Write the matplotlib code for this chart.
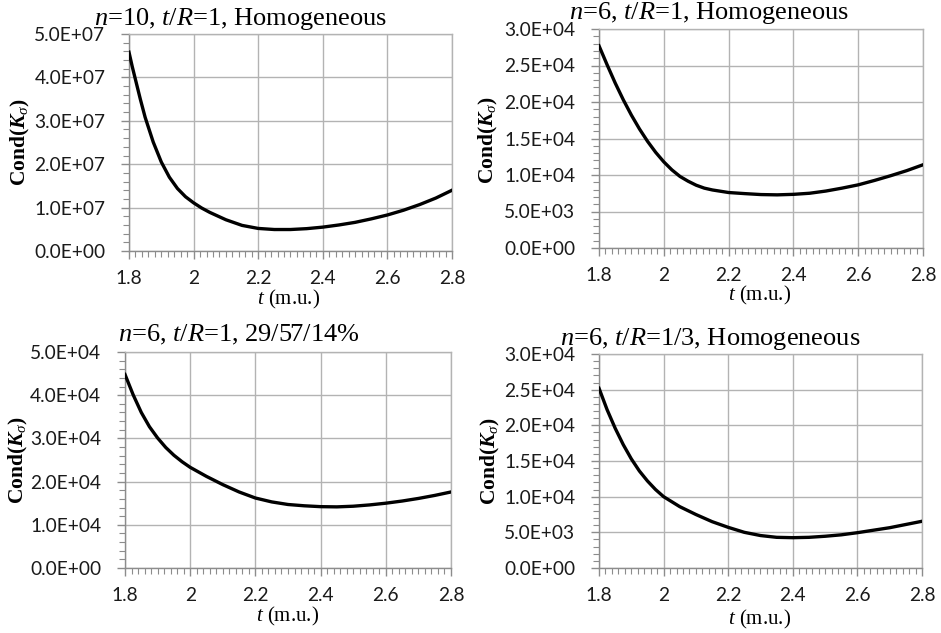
import matplotlib
matplotlib.use("Agg")
import matplotlib.pyplot as plt
from matplotlib.ticker import MultipleLocator, FuncFormatter

# thickness t (m.u.) and Cond(K_sigma)
t1 = [1.80, 1.81, 1.82, 1.835, 1.85, 1.875, 1.90, 1.925, 1.95, 1.975, 2.00, 2.025, 2.05,
      2.10, 2.15, 2.20, 2.25, 2.30, 2.35, 2.40, 2.45, 2.50, 2.55, 2.60, 2.65, 2.70, 2.75, 2.80]
cond1 = [4.58e7, 4.25e7, 3.95e7, 3.50e7, 3.08e7, 2.51e7, 2.05e7, 1.70e7, 1.44e7, 1.25e7,
         1.11e7, 0.99e7, 0.89e7, 0.72e7, 0.59e7, 0.52e7, 0.495e7, 0.495e7, 0.515e7, 0.55e7,
         0.60e7, 0.66e7, 0.74e7, 0.83e7, 0.94e7, 1.07e7, 1.22e7, 1.40e7]

t2 = [1.80, 1.825, 1.85, 1.875, 1.90, 1.925, 1.95, 1.975, 2.00, 2.025, 2.05, 2.075, 2.10,
      2.125, 2.15, 2.20, 2.25, 2.30, 2.35, 2.40, 2.45, 2.50, 2.55, 2.60, 2.65, 2.70, 2.75, 2.80]
cond2 = [2.77e4, 2.51e4, 2.26e4, 2.03e4, 1.82e4, 1.63e4, 1.46e4, 1.31e4, 1.18e4, 1.07e4,
         0.98e4, 0.915e4, 0.86e4, 0.82e4, 0.795e4, 0.76e4, 0.745e4, 0.732e4, 0.728e4, 0.735e4,
         0.75e4, 0.78e4, 0.82e4, 0.865e4, 0.925e4, 0.99e4, 1.06e4, 1.14e4]

t3 = [1.80, 1.825, 1.85, 1.875, 1.90, 1.925, 1.95, 1.975, 2.00, 2.05, 2.10, 2.15, 2.20,
      2.25, 2.30, 2.35, 2.40, 2.45, 2.50, 2.55, 2.60, 2.65, 2.70, 2.75, 2.80]
cond3 = [4.48e4, 4.01e4, 3.60e4, 3.27e4, 3.01e4, 2.79e4, 2.61e4, 2.46e4, 2.33e4, 2.12e4,
         1.93e4, 1.76e4, 1.62e4, 1.53e4, 1.47e4, 1.44e4, 1.42e4, 1.415e4, 1.43e4, 1.46e4,
         1.50e4, 1.55e4, 1.61e4, 1.68e4, 1.76e4]

t4 = [1.80, 1.825, 1.85, 1.875, 1.90, 1.925, 1.95, 1.975, 2.00, 2.05, 2.10, 2.15, 2.20,
      2.25, 2.30, 2.35, 2.40, 2.45, 2.50, 2.55, 2.60, 2.65, 2.70, 2.75, 2.80]
cond4 = [2.52e4, 2.22e4, 1.96e4, 1.73e4, 1.53e4, 1.36e4, 1.22e4, 1.10e4, 1.00e4, 0.86e4,
         0.75e4, 0.65e4, 0.57e4, 0.50e4, 0.455e4, 0.43e4, 0.425e4, 0.43e4, 0.445e4, 0.465e4,
         0.495e4, 0.53e4, 0.565e4, 0.61e4, 0.655e4]

titles = [r"$n$=10, $t$/$R$=1, Homogeneous",
          r"$n$=6, $t$/$R$=1, Homogeneous",
          r"$n$=6, $t$/$R$=1, 29/57/14%",
          r"$n$=6, $t$/$R$=1/3, Homogeneous"]
ymax = [5e7, 3e4, 5e4, 3e4]
ystep = [1e7, 5e3, 1e4, 5e3]

plt.rcParams["font.family"] = "Lato"
plt.rcParams["mathtext.fontset"] = "custom"
plt.rcParams["mathtext.rm"] = "Liberation Serif"
plt.rcParams["mathtext.it"] = "Liberation Serif:italic"
plt.rcParams["mathtext.bf"] = "Liberation Serif:bold"
plt.rcParams["mathtext.bfit"] = "Liberation Serif:bold:italic"

W, H = 941, 633
fig = plt.figure(figsize=(W / 100, H / 100), dpi=100)

# axes boxes in pixels: left, top, right, bottom
boxes = [(129, 34, 452, 251), (599, 29, 923, 248), (125, 352, 451, 568), (599, 354, 922, 568)]
title_pos = [(241, 25), (709, 19), (239, 341), (710, 345)]
ylab_pos = [(20, 142), (488, 140), (18, 460), (490, 461)]
xlab_pos = [(289, 304), (760, 300), (288, 621), (760, 624)]

data = [(t1, cond1), (t2, cond2), (t3, cond3), (t4, cond4)]

grid_c = "#b3b3b3"
spine_c = "#8c8c8c"

def sci(v, pos):
    if abs(v) < 1e-9:
        return "0.0E+00"
    return "%.1E" % v

for i in range(4):
    l, t, r, b = boxes[i]
    ax = fig.add_axes([l / W, 1 - b / H, (r - l) / W, (b - t) / H])
    x, y = data[i]
    ax.plot(x, y, color="black", lw=2.4, solid_joinstyle="round", zorder=3)
    ax.set_xlim(1.8, 2.8)
    ax.set_ylim(0, ymax[i])
    ax.xaxis.set_major_locator(MultipleLocator(0.2))
    ax.xaxis.set_minor_locator(MultipleLocator(0.02))
    ax.yaxis.set_major_locator(MultipleLocator(ystep[i]))
    ax.yaxis.set_minor_locator(MultipleLocator(ystep[i] / 5))
    ax.xaxis.set_major_formatter(FuncFormatter(lambda v, p: "%g" % round(v, 2)))
    ax.yaxis.set_major_formatter(FuncFormatter(sci))
    ax.grid(True, which="major", color=grid_c, lw=1.0, zorder=0)
    for s in ax.spines.values():
        s.set_color(grid_c)
        s.set_linewidth(1.0)
    ax.spines["left"].set_color(spine_c)
    ax.spines["bottom"].set_color(spine_c)
    ax.tick_params(which="major", direction="out", length=6, width=1.0, color=spine_c,
                   labelsize=13.8, labelcolor="#1a1a1a")
    ax.tick_params(which="minor", direction="out", length=4, width=0.8, color=spine_c)
    ax.tick_params(axis="y", which="major", pad=11)
    ax.tick_params(axis="x", which="major", pad=8)

    fig.text(title_pos[i][0] / W, 1 - title_pos[i][1] / H, titles[i], ha="center",
             va="baseline", fontsize=19, family="Liberation Serif")
    fig.text(ylab_pos[i][0] / W, 1 - ylab_pos[i][1] / H, r"Cond($\boldsymbol{K}_{\sigma}$)",
             rotation=90, ha="center", va="center", fontsize=15.5,
             family="Liberation Serif", weight="bold")
    fig.text(xlab_pos[i][0] / W, 1 - xlab_pos[i][1] / H, r"$t$ (m.u.)", ha="center",
             va="baseline", fontsize=15, family="Liberation Serif")

fig.savefig("out.png", dpi=100)
